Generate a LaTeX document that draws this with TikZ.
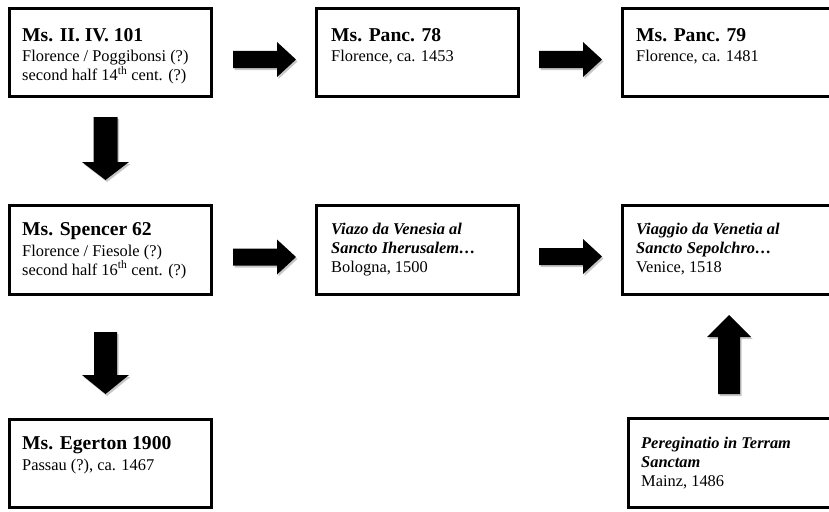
\documentclass[tikz,border=0pt]{standalone}
\usepackage{fontspec}
\setmainfont{Liberation Serif}
\usetikzlibrary{shadows}
\begin{document}
\begin{tikzpicture}[x=1pt,y=-1pt,
  msbox/.style={draw=black, line width=3pt, fill=white, inner sep=0pt, outer sep=0pt, anchor=north west},
  mstext/.style={anchor=north west, inner sep=0pt, align=left, font=\fontsize{16.4}{19}\selectfont},
  mstitle/.style={font=\fontsize{19.6}{20}\selectfont\bfseries},
  blockarrow/.style={fill=black, draw=none, drop shadow={shadow xshift=1.5pt, shadow yshift=-2pt, opacity=0.22, fill=black}},
]
\useasboundingbox (0,0) rectangle (829,511);
\clip (0,0) rectangle (829,511);
\fill[white] (0,0) rectangle (829,511);

% boxes
\node[msbox, minimum width=202pt, minimum height=88pt] (A) at (9.5,8.5) {};
\node[msbox, minimum width=202pt, minimum height=88pt] (B) at (316.5,8.5) {};
\node[msbox, minimum width=230pt, minimum height=88pt] (C) at (622.5,8.5) {};
\node[msbox, minimum width=202pt, minimum height=89pt] (D) at (9.5,205.5) {};
\node[msbox, minimum width=202pt, minimum height=89pt] (E) at (316.5,205.5) {};
\node[msbox, minimum width=230pt, minimum height=89pt] (F) at (622.5,205.5) {};
\node[msbox, minimum width=202pt, minimum height=88pt] (G) at (9.5,419.5) {};
\node[msbox, minimum width=230pt, minimum height=89pt] (H) at (628.5,418.5) {};

% texts
\node[mstext] (At) at (22,28) {{\fontsize{19.6}{20}\selectfont\bfseries Ms. II. IV. 101}\\[1.5pt]
  Florence / Poggibonsi (?)\\ second half 14\textsuperscript{th} cent. (?)};
\node[mstext] (Bt) at (331,28) {{\fontsize{19.6}{20}\selectfont\bfseries Ms. Panc. 78}\\[1.5pt]
  Florence, ca. 1453};
\node[mstext] (Ct) at (636,28) {{\fontsize{19.6}{20}\selectfont\bfseries Ms. Panc. 79}\\[1.5pt]
  Florence, ca. 1481};
\node[mstext] (Dt) at (22,222.5) {{\fontsize{19.6}{20}\selectfont\bfseries Ms. Spencer 62}\\[1.5pt]
  Florence / Fiesole (?)\\ second half 16\textsuperscript{th} cent. (?)};
\node[mstext] (Et) at (331,222.5) {\textbf{\textit{Viazo da Venesia al}}\\
  \textbf{\textit{Sancto Iherusalem\ldots}}\\ Bologna, 1500};
\node[mstext] (Ft) at (636,222.5) {\textbf{\textit{Viaggio da Venetia al}}\\
  \textbf{\textit{Sancto Sepolchro\ldots}}\\ Venice, 1518};
\node[mstext] (Gt) at (22,436.5) {{\fontsize{19.6}{20}\selectfont\bfseries Ms. Egerton 1900}\\[1.5pt]
  Passau (?), ca. 1467};
\node[mstext] (Ht) at (641,436.5) {\textbf{\textit{Pereginatio in Terram}}\\
  \textbf{\textit{Sanctam}}\\ Mainz, 1486};

% block arrows
\path[blockarrow] (233,51)--(277,51)--(277,42)--(296,59.5)--(277,77)--(277,68)--(233,68)--cycle;
\path[blockarrow] (539,51)--(583,51)--(583,42)--(602,59.5)--(583,77)--(583,68)--(539,68)--cycle;
\path[blockarrow] (233,248.5)--(277,248.5)--(277,239.5)--(296,257)--(277,274.5)--(277,265.5)--(233,265.5)--cycle;
\path[blockarrow] (539,248)--(583,248)--(583,239)--(602,256.5)--(583,274)--(583,265)--(539,265)--cycle;
\path[blockarrow] (93.5,117)--(117.5,117)--(117.5,162)--(129,162)--(105.5,180)--(82,162)--(93.5,162)--cycle;
\path[blockarrow] (94,332)--(117,332)--(117,375)--(129,375)--(105.5,394)--(82,375)--(94,375)--cycle;
\path[blockarrow] (718,394)--(740,394)--(740,337)--(751,337)--(729,315)--(707,337)--(718,337)--cycle;
\end{tikzpicture}
\end{document}
